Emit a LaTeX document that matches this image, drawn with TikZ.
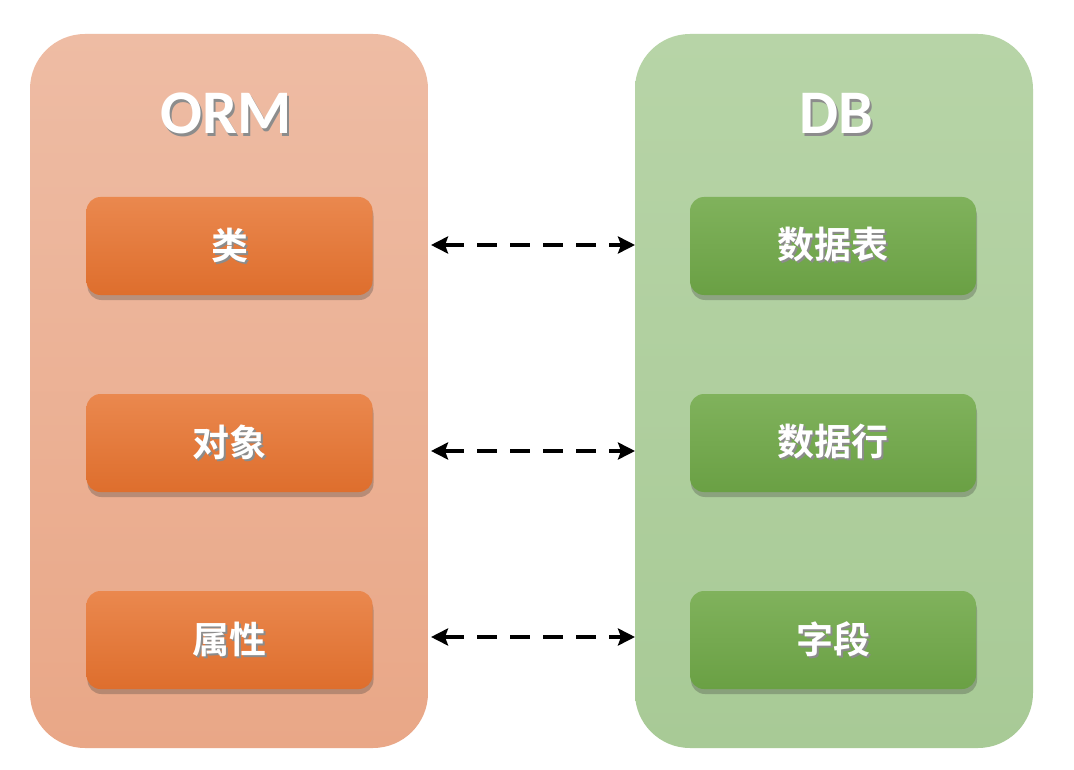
\documentclass[tikz,border=0pt]{standalone}
\usepackage{fontspec}
\setmainfont{Carlito}
\newfontfamily\cjk{Noto Sans CJK SC}[BoldFont={* Bold}]
\usetikzlibrary{shadows,arrows.meta}
\definecolor{orpanelT}{RGB}{238,188,164}
\definecolor{orpanelB}{RGB}{233,167,135}
\definecolor{orboxT}{RGB}{234,136,78}
\definecolor{orboxB}{RGB}{222,110,45}
\definecolor{grpanelT}{RGB}{183,212,167}
\definecolor{grpanelB}{RGB}{168,202,150}
\definecolor{grboxT}{RGB}{128,178,92}
\definecolor{grboxB}{RGB}{106,160,68}
\newcommand{\shadowtext}[2]{\makebox[0pt][l]{\hspace*{#1}\raisebox{-#1}{\textcolor{black!45}{#2}}}#2}
\tikzset{
  panel/.style={rounded corners=55pt, minimum width=398pt, minimum height=714pt, inner sep=0pt},
  orpanel/.style={panel, top color=orpanelT, bottom color=orpanelB},
  grpanel/.style={panel, top color=grpanelT, bottom color=grpanelB},
  box/.style={rounded corners=14pt, minimum width=286pt, minimum height=98pt, inner sep=0pt,
    font=\cjk\fontsize{37}{37}\selectfont\bfseries, text=white,
    drop shadow={shadow xshift=1pt, shadow yshift=-5pt, opacity=0.28, fill=black!80}},
  orbox/.style={box, top color=orboxT, bottom color=orboxB},
  grbox/.style={box, top color=grboxT, bottom color=grboxB},
  title/.style={font=\fontsize{62}{62}\selectfont\bfseries, text=white},
  link/.style={line width=4.5pt, dash pattern=on 20pt off 13pt, {Stealth[length=17pt,width=17pt,inset=3pt]}-{Stealth[length=17pt,width=17pt,inset=3pt]}}
}
\begin{document}
\begin{tikzpicture}[x=1pt,y=-1pt]
\useasboundingbox[fill=white] (0,0) rectangle (1074,770);
\node[orpanel] (orm) at (229,391) {};
\node[grpanel] (db) at (834,391) {};
% titles
\node[title] (ormt) at (226,115) {\shadowtext{2.5pt}{ORM}};
\node[title] (dbt) at (836,115) {\shadowtext{2.5pt}{DB}};
% left boxes
\node[orbox] (cls) at (229.5,246) {\shadowtext{2pt}{类}};
\node[orbox] (obj) at (229.5,443) {\shadowtext{2pt}{对象}};
\node[orbox] (attr) at (229.5,640) {\shadowtext{2pt}{属性}};
% right boxes
\node[grbox] (tbl) at (833,246) {\shadowtext{2pt}{数据表}};
\node[grbox] (row) at (833,443) {\shadowtext{2pt}{数据行}};
\node[grbox] (fld) at (833,640) {\shadowtext{2pt}{字段}};
% links
\coordinate (a1) at (431,245); \coordinate (b1) at (635,245);
\coordinate (a2) at (431,451); \coordinate (b2) at (635,451);
\coordinate (a3) at (431,637); \coordinate (b3) at (635,637);
\draw[link] (a1) -- (b1);
\draw[link] (a2) -- (b2);
\draw[link] (a3) -- (b3);
\end{tikzpicture}
\end{document}
